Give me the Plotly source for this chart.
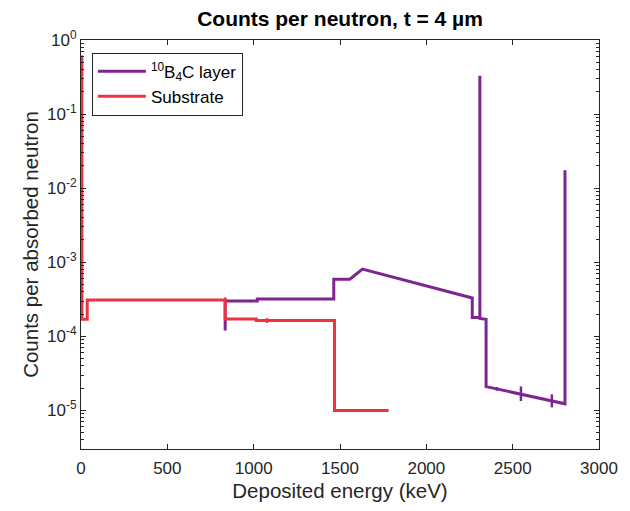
import plotly.graph_objects as go

# ---- data ----
layer_x = [835, 835, 1021, 1021, 1464, 1464, 1557, 1630, 2266, 2266, 2310, 2310, 2310, 2346, 2346, 2803, 2803]
layer_y = [1.2e-4, 3.0e-4, 3.0e-4, 3.2e-4, 3.2e-4, 5.9e-4, 5.9e-4, 8.1e-4, 3.3e-4, 1.8e-4, 1.8e-4, 0.33, 1.75e-4, 1.7e-4, 2.1e-5, 1.23e-5, 0.0175]

sub_x = [5, 5, 36, 36, 835, 835, 1015, 1015, 1468, 1468, 1782]
sub_y = [0.62, 1.7e-4, 1.7e-4, 3.1e-4, 3.1e-4, 1.72e-4, 1.72e-4, 1.64e-4, 1.64e-4, 1.0e-5, 1.0e-5]

layer_err_x = [1021, 2409, 2548, 2727]
layer_err_y = [3.1e-4, 1.95e-5, 1.66e-5, 1.35e-5]
layer_err_up = [0.2e-4, 0.12e-5, 0.45e-5, 0.3e-5]
layer_err_dn = [0.0, 0.1e-5, 0.32e-5, 0.25e-5]
sub_err_x = [835, 1078]
sub_err_y = [3.1e-4, 1.64e-4]
sub_err_up = [0.25e-4, 0.12e-4]
sub_err_dn = [0.0, 0.12e-4]

y_tickvals = [1, 1e-1, 1e-2, 1e-3, 1e-4, 1e-5]
y_ticktext = ["10<sup>0</sup>", "10<sup>-1</sup>", "10<sup>-2</sup>", "10<sup>-3</sup>", "10<sup>-4</sup>", "10<sup>-5</sup>"]
x_tickvals = [0, 500, 1000, 1500, 2000, 2500, 3000]

PURPLE = "#7E2590"
RED = "#EE3340"
TXT = "#262626"
FONT = "Liberation Sans, Arial, sans-serif"

fig = go.Figure()
fig.add_trace(go.Scatter(x=layer_x, y=layer_y, mode="lines", name="<sup>10</sup>B<sub>4</sub>C layer",
                         line=dict(color=PURPLE, width=3)))
fig.add_trace(go.Scatter(x=sub_x, y=sub_y, mode="lines", name="Substrate",
                         line=dict(color=RED, width=3)))
fig.add_trace(go.Scatter(x=layer_err_x, y=layer_err_y, mode="markers", showlegend=False,
                         marker=dict(size=1, color=PURPLE, opacity=0),
                         error_y=dict(type="data", array=layer_err_up, arrayminus=layer_err_dn, symmetric=False,
                                      color=PURPLE, thickness=2.5, width=0)))
fig.add_trace(go.Scatter(x=sub_err_x, y=sub_err_y, mode="markers", showlegend=False,
                         marker=dict(size=1, color=RED, opacity=0),
                         error_y=dict(type="data", array=sub_err_up, arrayminus=sub_err_dn, symmetric=False,
                                      color=RED, thickness=2.5, width=0)))

fig.update_layout(
    width=630, height=511,
    margin=dict(l=81, r=23, t=39.5, b=61.5),
    paper_bgcolor="white", plot_bgcolor="white",
    font=dict(family=FONT, color=TXT, size=17),
    title=dict(text="<b>Counts per neutron, t = 4 µm</b>", x=0.5, xref="paper", xanchor="center",
               y=1 - 19 / 511, yanchor="middle", font=dict(size=21, color="black")),
    showlegend=True,
    legend=dict(x=0.021, y=0.969, xanchor="left", yanchor="top", bgcolor="white",
                bordercolor="#262626", borderwidth=1, font=dict(size=17, color="black"),
                tracegroupgap=0, itemwidth=48),
    xaxis=dict(range=[0, 3000], tickvals=x_tickvals, ticks="inside", ticklen=5, tickcolor="#262626",
               showline=True, linecolor="#262626", linewidth=1, mirror="ticks", showgrid=False,
               zeroline=False, ticklabelstandoff=4,
               title=dict(text="Deposited energy (keV)", font=dict(size=20.5), standoff=6),
               tickfont=dict(size=17, color=TXT)),
    yaxis=dict(type="log", range=[-5.52, 0], tickvals=y_tickvals, ticktext=y_ticktext,
               ticks="inside", ticklen=5, tickcolor="#262626",
               minor=dict(ticks="inside", ticklen=3, tickcolor="#262626", dtick="D1", showgrid=False),
               showline=True, linecolor="#262626", linewidth=1, mirror="ticks", showgrid=False,
               zeroline=False, title=dict(text="Counts per absorbed neutron", font=dict(size=20.5), standoff=2),
               tickfont=dict(size=17, color=TXT)),
)

fig.write_html("out.html")
